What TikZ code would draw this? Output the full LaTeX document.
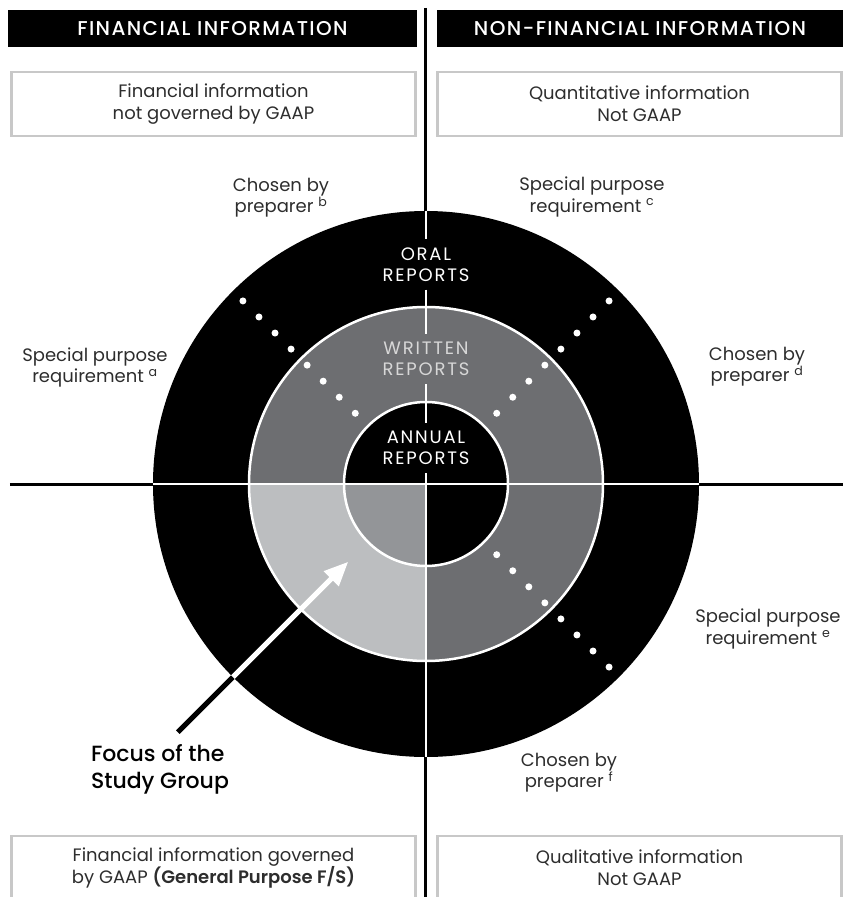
\documentclass[tikz,border=0pt]{standalone}
\usepackage{fontspec}
\setmainfont{Poppins}[BoldFont={Poppins SemiBold}]
\newfontfamily\focusfont{Poppins Medium}
\usepackage{tikz}
\usetikzlibrary{arrows.meta}
\definecolor{ringgray}{RGB}{109,110,113}
\definecolor{lightring}{RGB}{188,190,192}
\definecolor{midring}{RGB}{147,149,152}
\definecolor{boxgray}{RGB}{200,200,200}
\definecolor{textgray}{RGB}{45,45,45}
\definecolor{writtengray}{RGB}{215,215,215}

\begin{document}
\begin{tikzpicture}[x=1pt,y=1pt]
      \tikzstyle{header}=[fill=black,text=white,inner sep=0pt,minimum height=37pt,font=\fontsize{20}{22}\selectfont\focusfont\addfontfeature{LetterSpace=7}]
      \tikzstyle{infobox}=[draw=boxgray,line width=2.5pt,inner sep=0pt,minimum width=404pt,minimum height=64pt,align=center,text=textgray,font=\fontsize{18}{22}\selectfont]
      \tikzstyle{note}=[align=center,text=textgray,font=\fontsize{18}{21.5}\selectfont]
      \tikzstyle{reports}=[align=center,inner sep=0pt,minimum height=50pt,font=\fontsize{18}{21}\selectfont\addfontfeature{LetterSpace=10}]
      \tikzstyle{whiteline}=[white,line width=2.5pt]
      \tikzstyle{blackline}=[black,line width=3pt]
      \useasboundingbox (-426,484) rectangle (423,-413);
      \clip (-426,484) rectangle (423,-413);
      \node[header,minimum width=409pt] (fin) at (-213.5,455.5) {FINANCIAL INFORMATION};
      \node[header,minimum width=406pt] (nonfin) at (214,455.5) {NON-FINANCIAL INFORMATION};
      \node[infobox] (notgaap) at (-212.5,380) {Financial information\\not governed by GAAP};
      \node[infobox] (quant) at (213.5,380) {Quantitative information\\Not GAAP};
      \node[infobox] (gaap) at (-212.5,-384) {Financial information governed\\by GAAP \textbf{(General Purpose F/S)}};
      \node[infobox] (qual) at (213.5,-384) {Qualitative information\\Not GAAP};
      \coordinate (top) at (0,476);
      \coordinate (bottom) at (0,-413);
      \coordinate (west) at (-416,0);
      \coordinate (east) at (417,0);
      \draw[blackline] (top) -- (bottom);
      \draw[blackline] (west) -- (east);
      \fill[black] (0,0) circle (273);
      \fill[ringgray] (0,0) circle (177);
      \fill[lightring] (0,0) -- (180:177) arc (180:270:177) -- cycle;
      \fill[black] (0,0) circle (82);
      \fill[midring] (0,0) -- (180:82) arc (180:270:82) -- cycle;
      \draw[whiteline] (0,0) circle (177) (0,0) circle (82);
      \node[reports,text=white] (oral) at (0,219.5) {ORAL\\REPORTS};
      \node[reports,text=writtengray] (written) at (0,125) {WRITTEN\\REPORTS};
      \node[reports,text=white] (annual) at (0,36) {ANNUAL\\REPORTS};
      \draw[whiteline] (180:273) -- (0:273);
      \draw[whiteline] (90:273) -- (oral) -- (written) -- (annual) -- (270:273);
      \foreach \ang in {135,45,-45}
        \foreach \k in {0,...,7}
          \fill[white] (\ang:{100+22.7*\k}) circle (3.5);
      \coordinate (tail) at (225:351);
      \coordinate (rim) at (225:273);
      \coordinate (tip) at (225:110);
      \draw[black,line width=5pt] (tail) -- (rim);
      \draw[white,line width=5pt,-{Triangle[length=24pt,width=20pt]}] (rim) -- (tip);
      \node[note] (spa) at (-331,116.5) {Special purpose\\requirement \textsuperscript{a}};
      \node[note] (prb) at (-145,286.5) {Chosen by\\preparer \textsuperscript{b}};
      \node[note] (spc) at (166,287) {Special purpose\\requirement \textsuperscript{c}};
      \node[note] (prd) at (331,117.5) {Chosen by\\preparer \textsuperscript{d}};
      \node[note] (spe) at (342,-145) {Special purpose\\requirement \textsuperscript{e}};
      \node[note] (prf) at (143,-288.5) {Chosen by\\preparer \textsuperscript{f}};
      \node[note,align=left,text=black,font=\fontsize{22}{27}\selectfont\focusfont] (focus) at (-266,-285.5) {Focus of the\\Study Group};
\end{tikzpicture}
\end{document}
